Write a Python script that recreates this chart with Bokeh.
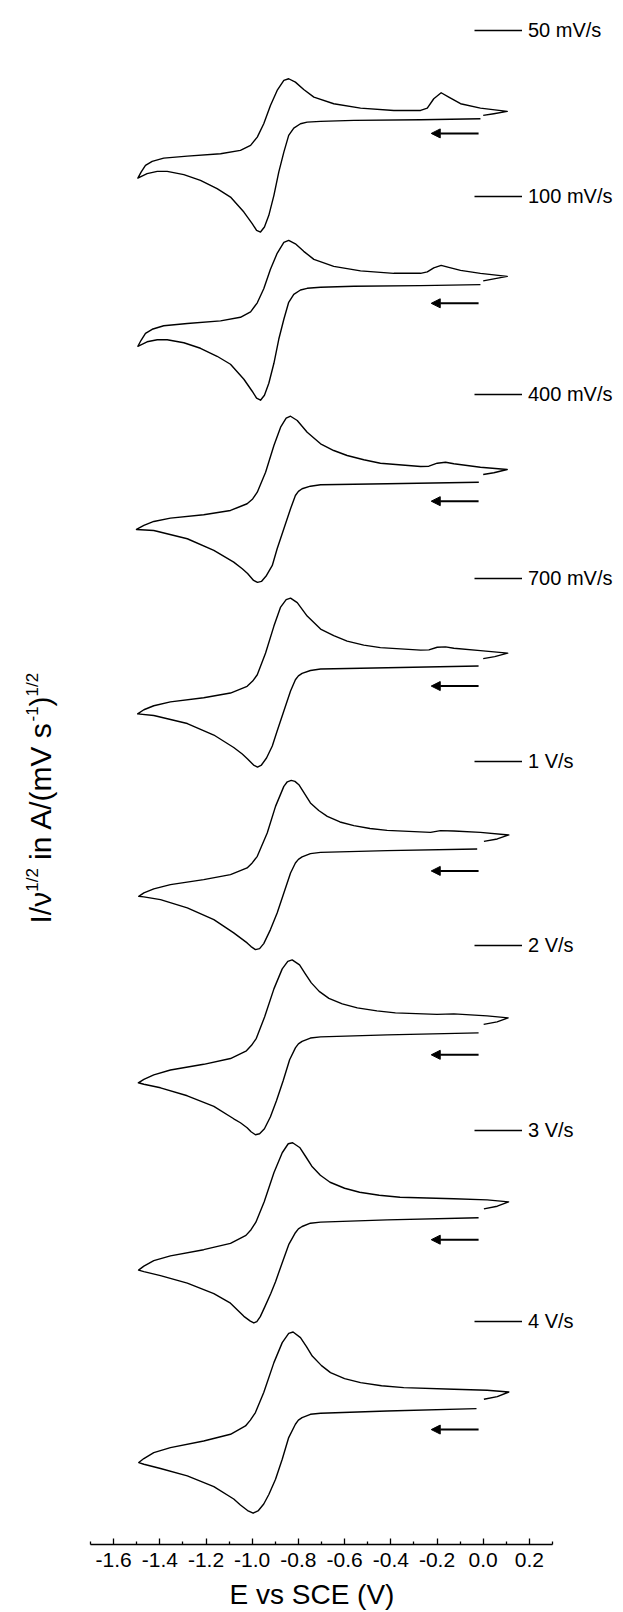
import numpy as np
from bokeh.plotting import figure
from bokeh.models import (Range1d, FixedTicker, NumeralTickFormatter, Legend, LegendItem,
                          Arrow, NormalHead, Label, ColumnDataSource)
from bokeh.embed import file_html
from bokeh.resources import INLINE

# ---------------- data ----------------
scan_rates = ["50 mV/s", "100 mV/s", "400 mV/s", "700 mV/s", "1 V/s", "2 V/s", "3 V/s", "4 V/s"]
# vertical stacking offset of each voltammogram (a.u.)
offsets = [14.27, 12.61, 10.63, 8.79, 6.96, 5.12, 3.27, 1.36]
arrow_drop = [0.15, 0.19, 0.19, 0.20, 0.22, 0.22, 0.22, 0.21]
arrow_E_start = -0.02
arrow_E_end = -0.225

x_ticks = [-1.6, -1.4, -1.2, -1.0, -0.8, -0.6, -0.4, -0.2, 0.0, 0.2]
x_minor = [-1.7, -1.5, -1.3, -1.1, -0.9, -0.7, -0.5, -0.3, -0.1, 0.1, 0.3]

E_50 = [-0.012, -0.271, -0.560, -0.704, -0.762, -0.791, -0.820, -0.842, -0.863, -0.885, -0.906, -0.928, -0.947,
        -0.964, -0.981, -1.000, -1.036, -1.094, -1.152, -1.224, -1.296, -1.368, -1.411, -1.455, -1.495,
        -1.481, -1.462, -1.433, -1.383, -1.281, -1.137, -1.051, -1.007, -0.978, -0.950, -0.921, -0.892, -0.863,
        -0.842, -0.813, -0.777, -0.733, -0.647, -0.531, -0.387, -0.271, -0.242, -0.214, -0.182, -0.149, -0.098,
        -0.012, 0.104, 0.046, 0.000]
I_50 = [-0.003, -0.013, -0.020, -0.030, -0.037, -0.053, -0.097, -0.170, -0.337, -0.537, -0.770, -0.970, -1.087,
        -1.137, -1.120, -1.053, -0.937, -0.787, -0.703, -0.620, -0.563, -0.530, -0.530, -0.553, -0.597,
        -0.537, -0.470, -0.430, -0.397, -0.377, -0.353, -0.320, -0.270, -0.187, -0.053, 0.130, 0.280, 0.380,
        0.397, 0.363, 0.290, 0.213, 0.147, 0.103, 0.080, 0.080, 0.103, 0.197, 0.257, 0.213, 0.147,
        0.103, 0.070, 0.047, 0.030]

E_100 = [-0.012, -0.271, -0.560, -0.704, -0.762, -0.791, -0.820, -0.842, -0.863, -0.885, -0.906, -0.928, -0.947,
         -0.964, -0.981, -1.000, -1.036, -1.094, -1.152, -1.224, -1.296, -1.368, -1.411, -1.455, -1.495,
         -1.481, -1.462, -1.433, -1.383, -1.281, -1.137, -1.051, -1.007, -0.978, -0.950, -0.921, -0.892, -0.863,
         -0.842, -0.813, -0.777, -0.733, -0.647, -0.531, -0.387, -0.271, -0.242, -0.214, -0.182, -0.149, -0.098,
         -0.012, 0.104, 0.046, 0.000]
I_100 = [-0.003, -0.013, -0.020, -0.030, -0.040, -0.057, -0.100, -0.180, -0.350, -0.550, -0.790, -0.990, -1.110,
         -1.160, -1.140, -1.070, -0.950, -0.800, -0.720, -0.640, -0.585, -0.555, -0.555, -0.575, -0.620,
         -0.560, -0.490, -0.450, -0.415, -0.392, -0.366, -0.330, -0.275, -0.185, -0.045, 0.150, 0.310, 0.420,
         0.440, 0.405, 0.330, 0.250, 0.180, 0.135, 0.110, 0.110, 0.125, 0.165, 0.190, 0.170, 0.140,
         0.110, 0.080, 0.055, 0.035]

E_400 = [-0.019, -0.416, -0.704, -0.748, -0.784, -0.800, -0.813, -0.834, -0.863, -0.892, -0.913, -0.938, -0.960,
         -0.977, -0.994, -1.020, -1.043, -1.080, -1.166, -1.281, -1.426, -1.501,
         -1.469, -1.426, -1.354, -1.210, -1.094, -1.022, -0.998, -0.978, -0.942, -0.906, -0.877, -0.853, -0.834,
         -0.805, -0.762, -0.704, -0.647, -0.589, -0.517, -0.445, -0.271, -0.235, -0.199, -0.163, -0.127, -0.012,
         0.104, 0.046, 0.000]
I_400 = [0.000, -0.016, -0.026, -0.040, -0.066, -0.092, -0.133, -0.266, -0.466, -0.666, -0.833, -0.933, -0.993,
         -1.003, -0.983, -0.913, -0.866, -0.800, -0.683, -0.566, -0.483, -0.473,
         -0.433, -0.393, -0.360, -0.326, -0.283, -0.216, -0.168, -0.100, 0.100, 0.367, 0.550, 0.640, 0.660,
         0.617, 0.500, 0.384, 0.317, 0.267, 0.224, 0.190, 0.157, 0.160, 0.190, 0.200, 0.184, 0.150,
         0.127, 0.094, 0.077]

E_700 = [-0.020, -0.416, -0.704, -0.748, -0.784, -0.800, -0.813, -0.834, -0.863, -0.892, -0.913, -0.938, -0.960,
         -0.977, -0.994, -1.020, -1.043, -1.080, -1.166, -1.281, -1.426, -1.496,
         -1.469, -1.426, -1.354, -1.210, -1.094, -1.022, -0.998, -0.978, -0.942, -0.906, -0.877, -0.853, -0.834,
         -0.805, -0.762, -0.704, -0.647, -0.589, -0.517, -0.445, -0.271, -0.235, -0.199, -0.163, -0.127, -0.012,
         0.106, 0.050, 0.000]
I_700 = [0.000, -0.017, -0.030, -0.044, -0.073, -0.098, -0.137, -0.250, -0.450, -0.650, -0.800, -0.920, -0.990,
         -1.010, -0.990, -0.930, -0.880, -0.815, -0.690, -0.575, -0.495, -0.478,
         -0.437, -0.397, -0.358, -0.317, -0.270, -0.203, -0.150, -0.087, 0.130, 0.400, 0.590, 0.665, 0.680,
         0.635, 0.500, 0.370, 0.305, 0.250, 0.210, 0.185, 0.160, 0.162, 0.188, 0.192, 0.178, 0.155,
         0.130, 0.095, 0.075]

E_1000 = [-0.026, -0.416, -0.704, -0.748, -0.784, -0.800, -0.813, -0.834, -0.863, -0.892, -0.921, -0.950, -0.968,
          -0.986, -1.005, -1.022, -1.080, -1.166, -1.281, -1.397, -1.469, -1.491,
          -1.469, -1.426, -1.354, -1.210, -1.094, -1.022, -1.000, -0.978, -0.935, -0.899, -0.863, -0.848, -0.831,
          -0.815, -0.798, -0.748, -0.712, -0.675, -0.620, -0.560, -0.490, -0.416, -0.228, -0.185, -0.127, -0.012,
          0.111, 0.061, 0.003]
I_1000 = [0.000, -0.017, -0.034, -0.047, -0.080, -0.104, -0.140, -0.240, -0.440, -0.640, -0.807, -0.947, -0.997,
          -1.007, -0.977, -0.940, -0.840, -0.707, -0.590, -0.507, -0.480, -0.474,
          -0.440, -0.400, -0.357, -0.307, -0.257, -0.190, -0.140, -0.074, 0.160, 0.426, 0.626, 0.672, 0.686,
          0.676, 0.643, 0.460, 0.385, 0.326, 0.270, 0.233, 0.205, 0.186, 0.166, 0.183, 0.180, 0.166,
          0.140, 0.100, 0.076]

E_2000 = [-0.020, -0.416, -0.704, -0.748, -0.784, -0.800, -0.813, -0.838, -0.866, -0.895, -0.921, -0.947, -0.968,
          -0.986, -1.005, -1.022, -1.051, -1.080, -1.166, -1.281, -1.397, -1.469, -1.493,
          -1.469, -1.426, -1.354, -1.210, -1.094, -1.025, -1.003, -0.982, -0.946, -0.906, -0.870, -0.846, -0.827,
          -0.795, -0.770, -0.744, -0.710, -0.668, -0.610, -0.545, -0.460, -0.380, -0.200, -0.127, 0.017,
          0.108, 0.060, 0.002]
I_2000 = [0.000, -0.020, -0.040, -0.052, -0.085, -0.110, -0.150, -0.270, -0.480, -0.680, -0.840, -0.960, -1.010,
          -1.020, -0.990, -0.950, -0.900, -0.860, -0.735, -0.630, -0.550, -0.515, -0.500,
          -0.465, -0.420, -0.372, -0.315, -0.257, -0.180, -0.125, -0.055, 0.160, 0.440, 0.640, 0.715, 0.730,
          0.680, 0.590, 0.500, 0.415, 0.345, 0.290, 0.250, 0.220, 0.200, 0.185, 0.190, 0.170,
          0.150, 0.110, 0.085]

E_3000 = [-0.020, -0.416, -0.704, -0.748, -0.784, -0.800, -0.813, -0.842, -0.870, -0.899, -0.920, -0.945, -0.965,
          -0.980, -0.993, -1.008, -1.036, -1.065, -1.094, -1.166, -1.281, -1.397, -1.469, -1.492,
          -1.469, -1.426, -1.354, -1.210, -1.094, -1.027, -1.005, -0.984, -0.948, -0.906, -0.870, -0.844, -0.825,
          -0.793, -0.768, -0.742, -0.705, -0.663, -0.600, -0.535, -0.450, -0.360, -0.127, 0.017,
          0.110, 0.061, 0.003]
I_3000 = [0.000, -0.022, -0.044, -0.055, -0.088, -0.112, -0.150, -0.270, -0.450, -0.640, -0.760, -0.890, -0.990,
          -1.040, -1.053, -1.035, -0.987, -0.920, -0.855, -0.760, -0.655, -0.580, -0.540, -0.525,
          -0.485, -0.430, -0.382, -0.320, -0.257, -0.177, -0.120, -0.045, 0.160, 0.450, 0.650, 0.740, 0.750,
          0.700, 0.610, 0.515, 0.425, 0.355, 0.295, 0.255, 0.225, 0.205, 0.190, 0.178,
          0.158, 0.115, 0.088]

E_4000 = [-0.029, -0.416, -0.704, -0.748, -0.784, -0.800, -0.813, -0.842, -0.870, -0.899, -0.928, -0.950, -0.973,
          -0.996, -1.020, -1.051, -1.080, -1.166, -1.281, -1.397, -1.469, -1.491,
          -1.469, -1.426, -1.354, -1.210, -1.094, -1.029, -1.008, -0.986, -0.950, -0.906, -0.870, -0.842, -0.823,
          -0.791, -0.765, -0.740, -0.700, -0.661, -0.600, -0.531, -0.440, -0.344, -0.127, 0.017,
          0.111, 0.061, 0.003]
I_4000 = [0.000, -0.024, -0.047, -0.057, -0.090, -0.115, -0.157, -0.290, -0.507, -0.707, -0.860, -0.955, -1.020,
          -1.047, -1.020, -0.965, -0.905, -0.780, -0.674, -0.600, -0.557, -0.540,
          -0.500, -0.440, -0.390, -0.324, -0.257, -0.174, -0.115, -0.040, 0.160, 0.460, 0.660, 0.753, 0.766,
          0.710, 0.620, 0.526, 0.430, 0.360, 0.300, 0.260, 0.228, 0.210, 0.193, 0.183,
          0.166, 0.120, 0.093]

curves_E = [E_50, E_100, E_400, E_700, E_1000, E_2000, E_3000, E_4000]
curves_I = [I_50, I_100, I_400, I_700, I_1000, I_2000, I_3000, I_4000]

# ---------------- figure ----------------
FONT = "Liberation Sans"
W, H = 623, 1612
AX_LEFT, AX_RIGHT = 90, 552          # pixel extent of the drawn x axis
E_MIN, E_MAX = -1.7, 0.3
PX_PER_V = (AX_RIGHT - AX_LEFT) / (E_MAX - E_MIN)
BB = 67                               # space below the axis
PX_PER_UNIT = 100.0

x_lo = E_MIN - AX_LEFT / PX_PER_V
x_hi = E_MAX + (W - AX_RIGHT) / PX_PER_V
p = figure(width=W, height=H, x_range=Range1d(x_lo, x_hi),
           y_range=Range1d(0, (H - BB) / PX_PER_UNIT),
           output_backend="svg", toolbar_location=None, y_axis_location=None,
           min_border_left=0, min_border_right=0, min_border_top=0, min_border_bottom=BB)
p.grid.visible = False
p.outline_line_color = None
p.background_fill_color = "white"
p.border_fill_color = "white"

for k in range(len(scan_rates)):
    E = np.array(curves_E[k])
    I = np.array(curves_I[k]) + offsets[k]
    r = p.line(E, I, line_color="black", line_width=1.4, line_join="round")
    ly = (offsets[k] + 0.88) * PX_PER_UNIT - 12.5
    leg = Legend(items=[LegendItem(label=scan_rates[k], renderers=[r])],
                 location=(474, ly), padding=0, spacing=0, margin=0,
                 glyph_width=48, glyph_height=20, label_height=20, label_standoff=6,
                 border_line_color=None, background_fill_alpha=0,
                 label_text_font=FONT, label_text_font_size="20px", label_text_color="black")
    p.add_layout(leg)

arrow_src = ColumnDataSource(dict(
    x0=[arrow_E_start] * len(offsets),
    x1=[arrow_E_end] * len(offsets),
    y=[o - d for o, d in zip(offsets, arrow_drop)],
))
p.add_layout(Arrow(end=NormalHead(size=9, fill_color="black", line_color="black", line_width=1),
                   x_start="x0", y_start="y", x_end="x1", y_end="y", source=arrow_src,
                   line_color="black", line_width=2))

# x axis
ax = p.xaxis[0]
ax.bounds = (E_MIN, E_MAX)
ax.ticker = FixedTicker(ticks=x_ticks, minor_ticks=x_minor)
ax.formatter = NumeralTickFormatter(format="0.0")
ax.major_tick_in = 6
ax.major_tick_out = 0
ax.minor_tick_in = 3
ax.minor_tick_out = 0
ax.axis_line_width = 1.3
ax.major_tick_line_width = 1.3
ax.minor_tick_line_width = 1.3
ax.major_label_text_font = FONT
ax.major_label_text_font_size = "21px"
ax.major_label_text_color = "black"
ax.major_label_standoff = 8
ax.axis_label = "E vs SCE (V)"
ax.axis_label_text_font = FONT
ax.axis_label_text_font_size = "28px"
ax.axis_label_text_font_style = "normal"
ax.axis_label_text_color = "black"
ax.axis_label_standoff = 9

# y axis title built from pieces (superscripts)
main_x, sup_x = 39.5, 31.5
pieces = [("I/\u03bd", main_x, 621.0, "30px"),
          ("1/2", sup_x, 652.7, "17px"),
          ("in A/(mV s", main_x, 684.6, "30px"),
          ("-1", sup_x, 823.0, "17px"),
          (")", main_x, 838.1, "30px"),
          ("1/2", sup_x, 848.1, "17px")]
for txt, xx, yy, fs in pieces:
    p.add_layout(Label(x=xx, y=yy, x_units="screen", y_units="screen", text=txt,
                       angle=np.pi / 2, text_font=FONT, text_font_size=fs,
                       text_baseline="alphabetic", text_align="left", text_color="black"))

open("out.html", "w").write(file_html(p, INLINE))
